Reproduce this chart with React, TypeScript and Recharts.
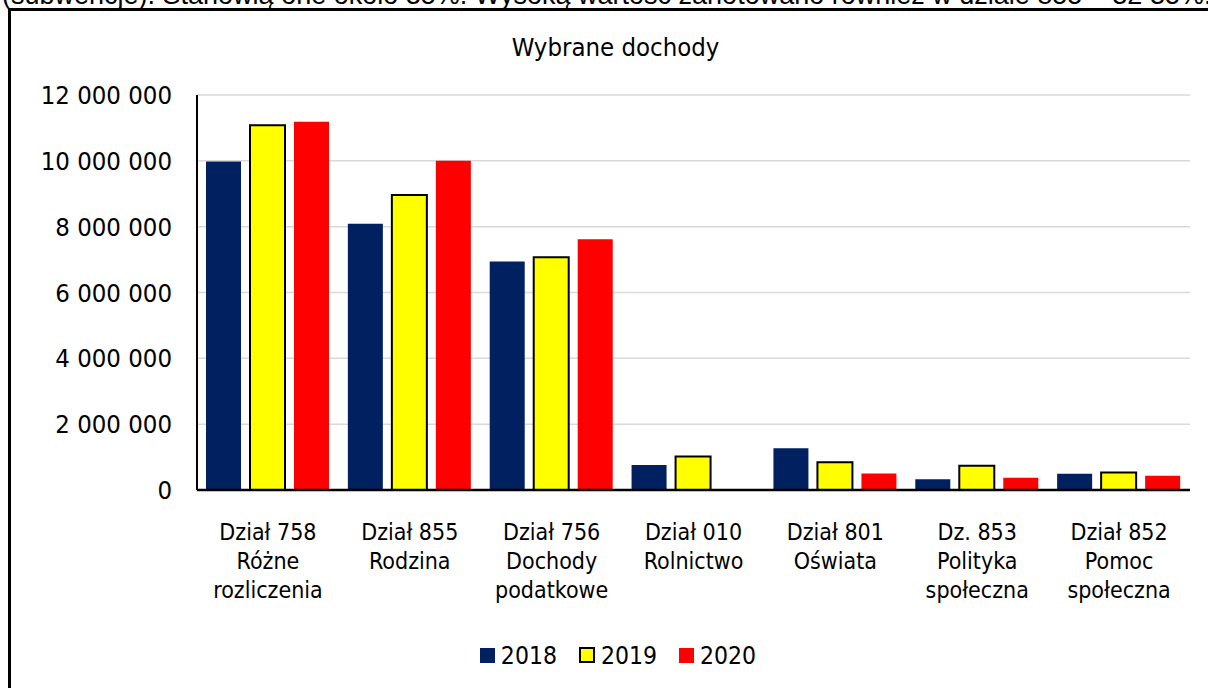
import React from "react";
import { BarChart, Bar, XAxis, YAxis, CartesianGrid } from "recharts";

// kategorie (działy) – łamanie linii przez \n
const categories = [
  "Dział 758\nRóżne\nrozliczenia",
  "Dział 855\nRodzina",
  "Dział 756\nDochody\npodatkowe",
  "Dział 010\nRolnictwo",
  "Dział 801\nOświata",
  "Dz. 853\nPolityka\nspołeczna",
  "Dział 852\nPomoc\nspołeczna",
];

const values2018 = [9980000, 8090000, 6940000, 760000, 1270000, 330000, 490000];
const values2019 = [11080000, 8960000, 7070000, 1020000, 840000, 740000, 530000];
const values2020 = [11190000, 10000000, 7620000, 0, 500000, 370000, 430000];

const seriesNames = ["2018", "2019", "2020"];
const seriesColors = ["#002060", "#FFFF00", "#FF0000"];
const yTicks = [0, 2000000, 4000000, 6000000, 8000000, 10000000, 12000000];

const chartTitle = "Wybrane dochody";
const textAbove =
  "(subwencje). Stanowią one około 35%. Wysoką wartość zanotowano również w dziale 855 – 32 35%.";

const data = categories.map((name, i) => ({
  name,
  v2018: values2018[i],
  v2019: values2019[i],
  v2020: values2020[i],
}));

const FONT = "'DejaVu Sans Condensed', 'DejaVu Sans', sans-serif";

const fmt = (v: number) => String(v).replace(/\B(?=(\d{3})+(?!\d))/g, " ");

function CategoryTick({ x, y, payload }: any) {
  const lines = String(payload.value).split("\n");
  return (
    <text x={x} y={y} textAnchor="middle" fontFamily={FONT} fontSize={23} fill="#000">
      {lines.map((line, i) => (
        <tspan key={i} x={x} dy={i === 0 ? 42 : 29}>
          {line}
        </tspan>
      ))}
    </text>
  );
}

export default function App() {
  return (
    <div
      style={{
        position: "absolute",
        left: 0,
        top: 0,
        width: 1208,
        height: 688,
        overflow: "hidden",
        background: "#fff",
      }}
    >
      <div
        style={{
          position: "absolute",
          left: 2,
          top: -20,
          whiteSpace: "nowrap",
          fontFamily: "'Liberation Sans', Arial, sans-serif",
          fontSize: 27,
          color: "#000",
        }}
      >
        {textAbove}
      </div>
      <div
        style={{
          position: "absolute",
          left: 8,
          top: 8,
          width: 1212,
          height: 760,
          border: "3px solid #000",
        }}
      />
      <div
        style={{
          position: "absolute",
          left: 0,
          top: 32,
          width: 1231,
          textAlign: "center",
          fontFamily: FONT,
          fontSize: 25.5,
          color: "#000",
        }}
      >
        {chartTitle}
      </div>
      <div style={{ position: "absolute", left: 0, top: 0 }}>
        <BarChart
          width={1208}
          height={688}
          data={data}
          margin={{ top: 95, right: 18, bottom: 88, left: 0 }}
          barCategoryGap={9}
          barGap={9}
        >
          <CartesianGrid vertical={false} stroke="#d9d9d9" strokeWidth={1.5} />
          <XAxis
            dataKey="name"
            height={110}
            axisLine={{ stroke: "#000", strokeWidth: 2.5 }}
            tickLine={false}
            interval={0}
            tick={<CategoryTick />}
          />
          <YAxis
            width={197}
            domain={[0, 12000000]}
            ticks={yTicks}
            tickFormatter={fmt}
            axisLine={{ stroke: "#000", strokeWidth: 2 }}
            tickLine={false}
            tickMargin={19}
            tick={{ fontFamily: FONT, fontSize: 25.5, fill: "#000" }}
          />
          <Bar dataKey="v2018" name={seriesNames[0]} fill={seriesColors[0]} isAnimationActive={false} />
          <Bar
            dataKey="v2019"
            name={seriesNames[1]}
            fill={seriesColors[1]}
            stroke="#000"
            strokeWidth={2}
            isAnimationActive={false}
          />
          <Bar dataKey="v2020" name={seriesNames[2]} fill={seriesColors[2]} isAnimationActive={false} />
        </BarChart>
      </div>
      <div
        style={{
          position: "absolute",
          left: 0,
          top: 640,
          width: 1236,
          height: 30,
          display: "flex",
          justifyContent: "center",
          alignItems: "center",
          fontFamily: FONT,
          fontSize: 24.5,
          color: "#000",
        }}
      >
        {seriesNames.map((s, i) => (
          <div
            key={s}
            style={{ display: "flex", alignItems: "center", marginLeft: i === 0 ? 0 : 22 }}
          >
            <span
              style={{
                display: "inline-block",
                width: i === 1 ? 12 : 15,
                height: i === 1 ? 12 : 15,
                background: seriesColors[i],
                border: i === 1 ? "2px solid #000" : "none",
                marginRight: 6,
              }}
            />
            <span>{s}</span>
          </div>
        ))}
      </div>
    </div>
  );
}
